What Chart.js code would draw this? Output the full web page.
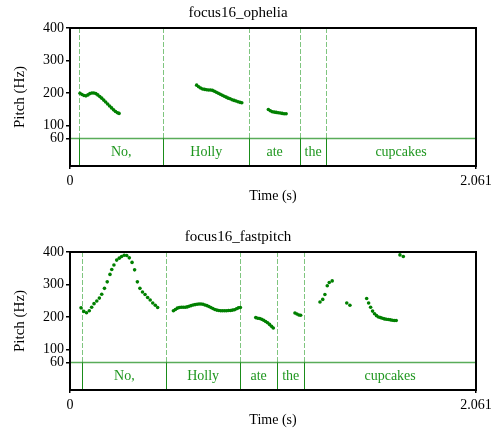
<!DOCTYPE html>
<html>
<head>
<meta charset="utf-8">
<script src="https://cdn.jsdelivr.net/npm/chart.js@4/dist/chart.umd.min.js"></script>
<style>
  body { margin: 0; background: #fff; }
  .panel { position: absolute; left: 0; width: 497px; height: 206px; }
</style>
</head>
<body>
<div class="panel" style="top:0px"><canvas id="haut"></canvas></div>
<div class="panel" style="top:224px"><canvas id="bas"></canvas></div>
<script>
// donnees
const duree = 2.061;
const yTicks = [60, 100, 200, 300, 400];
const xTickLabels = ['0', '2.061'];
const mots = ['', 'No,', 'Holly', 'ate', 'the', 'cupcakes'];

// panneau du haut : focus16_ophelia
const bornesHaut = [0.047, 0.474, 0.909, 1.168, 1.300];
const tempsHaut = [
  0.051,0.061,0.071,0.081,0.091,0.101,0.111,0.121,0.131,0.141,0.151,0.161,0.171,0.181,0.191,0.201,0.211,0.221,0.231,0.241,0.249,
  0.643,0.653,0.663,0.673,0.683,0.693,0.703,0.713,0.723,0.733,0.743,0.753,0.763,0.773,0.783,0.793,0.803,0.813,0.823,0.833,0.843,0.853,0.863,0.872,
  1.007,1.017,1.027,1.037,1.047,1.057,1.067,1.077,1.087,1.097
];
const pitchHaut = [
  199,195,192,191,194,198,200,200,198,194,189,184,178,172,166,160,154,148,143,139,137,
  224,219,215,212,211,210,209,209,208,205,202,199,196,193,190,187,184,182,179,177,175,173,171,170,
  149,145,142,141,140,139,138,137,136,136
];

// panneau du bas : focus16_fastpitch
const bornesBas = [0.0625, 0.489, 0.863, 1.052, 1.189];
const tempsBas = [
  0.056,0.070,0.084,0.098,0.110,0.122,0.136,0.149,0.161,0.175,0.189,0.203,0.212,0.223,0.237,0.250,0.262,0.275,0.288,0.301,0.315,0.328,0.342,0.355,0.368,0.381,0.394,0.407,0.420,0.433,0.445,
  0.525,0.535,0.545,0.555,0.565,0.575,0.585,0.595,0.605,0.615,0.625,0.635,0.645,0.655,0.665,0.675,0.685,0.695,0.705,0.715,0.725,0.735,0.745,0.755,0.765,0.775,0.785,0.795,0.805,0.815,0.825,0.835,0.845,0.855,0.865,
  0.943,0.953,0.963,0.973,0.983,0.993,1.003,1.013,1.023,1.032,
  1.142,1.152,1.162,1.171,
  1.269,1.283,1.294,1.306,1.316,1.331,
  1.405,1.421,
  1.506,1.516,1.526,1.536,1.546,1.556,1.566,1.576,1.586,1.596,1.606,1.616,1.626,1.636,1.646,1.656,
  1.675,1.692
];
const pitchBas = [
  228,217,213,219,230,241,249,258,270,288,308,331,346,360,375,381,386,390,389,382,368,345,308,288,277,269,260,252,243,236,229,
  219,223,227,229,230,230,230,231,233,235,237,238,239,240,240,239,237,235,232,229,226,223,221,220,219,219,219,219,220,220,221,222,225,228,229,
  198,196,195,193,190,186,182,177,171,166,
  212,209,206,205,
  246,254,269,296,306,311,
  243,236,
  257,243,230,218,210,204,200,198,196,194,193,192,191,190,189,189,
  391,386
];

const serif = { family: '"Liberation Serif", "Times New Roman", serif', size: 14, weight: 'normal' };
const serifTitre = { family: '"Liberation Serif", "Times New Roman", serif', size: 15, weight: 'normal' };
const vert = '#008000';

// le tier de texte + le cadre noir
const faireTier = (bornes) => ({
  id: 'tier',
  beforeDatasetsDraw(chart) {
    const { ctx, chartArea: a, scales: { x, y } } = chart;
    const y60 = y.getPixelForValue(60);
    ctx.save();
    ctx.strokeStyle = 'rgba(0,128,0,0.65)';
    ctx.lineWidth = 1.5;
    ctx.beginPath(); ctx.moveTo(a.left, y60); ctx.lineTo(a.right, y60); ctx.stroke();
    bornes.forEach(t => {
      const px = Math.round(x.getPixelForValue(t)) + 0.5;
      ctx.setLineDash([5, 2]);
      ctx.strokeStyle = 'rgba(0,140,0,0.5)';
      ctx.lineWidth = 1;
      ctx.beginPath(); ctx.moveTo(px, a.top); ctx.lineTo(px, y60); ctx.stroke();
      ctx.setLineDash([]);
      ctx.strokeStyle = '#1a8c1a';
      ctx.beginPath(); ctx.moveTo(px, y60); ctx.lineTo(px, a.bottom); ctx.stroke();
    });
    const bords = [0, ...bornes, duree];
    ctx.fillStyle = '#1e961e';
    ctx.font = '14px "Liberation Serif", serif';
    ctx.textAlign = 'center';
    ctx.textBaseline = 'middle';
    const ym = y.getPixelForValue((60 + y.min) / 2);
    mots.forEach((m, i) => {
      const cx = (x.getPixelForValue(bords[i]) + x.getPixelForValue(bords[i + 1])) / 2;
      ctx.fillText(m, cx, ym);
    });
    ctx.restore();
  },
  afterDraw(chart) {
    const { ctx, chartArea: a } = chart;
    ctx.save();
    ctx.strokeStyle = '#000';
    ctx.lineWidth = 2;
    ctx.strokeRect(a.left, a.top, a.right - a.left, a.bottom - a.top);
    ctx.restore();
  }
});

const dessiner = (id, titre, temps, pitch, bornes) => {
  new Chart(id, {
    type: 'scatter',
    data: {
      datasets: [{
        data: temps.map((t, i) => ({ x: t, y: pitch[i] })),
        pointRadius: 1.8,
        pointBorderWidth: 0,
        backgroundColor: vert
      }]
    },
    options: {
      responsive: true,
      maintainAspectRatio: false,
      animation: false,
      layout: { padding: { left: 0, right: 21, top: 0, bottom: 0 } },
      plugins: {
        legend: { display: false },
        tooltip: { enabled: false },
        title: {
          display: true, text: titre, color: '#000', font: serifTitre,
          padding: { top: 4, bottom: 6 }
        }
      },
      scales: {
        x: {
          type: 'linear', min: 0, max: duree,
          afterBuildTicks: s => { s.ticks = [{ value: 0 }, { value: duree }]; },
          afterFit: s => { s.height = 40; },
          ticks: { autoSkip: false, maxRotation: 0, padding: 4, color: '#000', font: serif,
                   callback: (v, i) => xTickLabels[i] },
          grid: { drawOnChartArea: false, tickLength: 3, color: '#000', lineWidth: 1.5 },
          border: { display: false },
          title: { display: true, text: 'Time (s)', color: '#000', font: serif, padding: { top: 0, bottom: 1 } }
        },
        y: {
          type: 'linear', min: -25, max: 400,
          afterBuildTicks: s => { s.ticks = yTicks.map(v => ({ value: v })); },
          afterFit: s => { s.width = 70; },
          ticks: { padding: 2, color: '#000', font: serif },
          grid: { drawOnChartArea: false, tickLength: 4, color: '#000', lineWidth: 1.5 },
          border: { display: false },
          title: { display: true, text: 'Pitch (Hz)', color: '#000', font: serifTitre, padding: { top: 11, bottom: 0 } }
        }
      }
    },
    plugins: [faireTier(bornes)]
  });
};

dessiner('haut', 'focus16_ophelia', tempsHaut, pitchHaut, bornesHaut);
dessiner('bas', 'focus16_fastpitch', tempsBas, pitchBas, bornesBas);
</script>
</body>
</html>
